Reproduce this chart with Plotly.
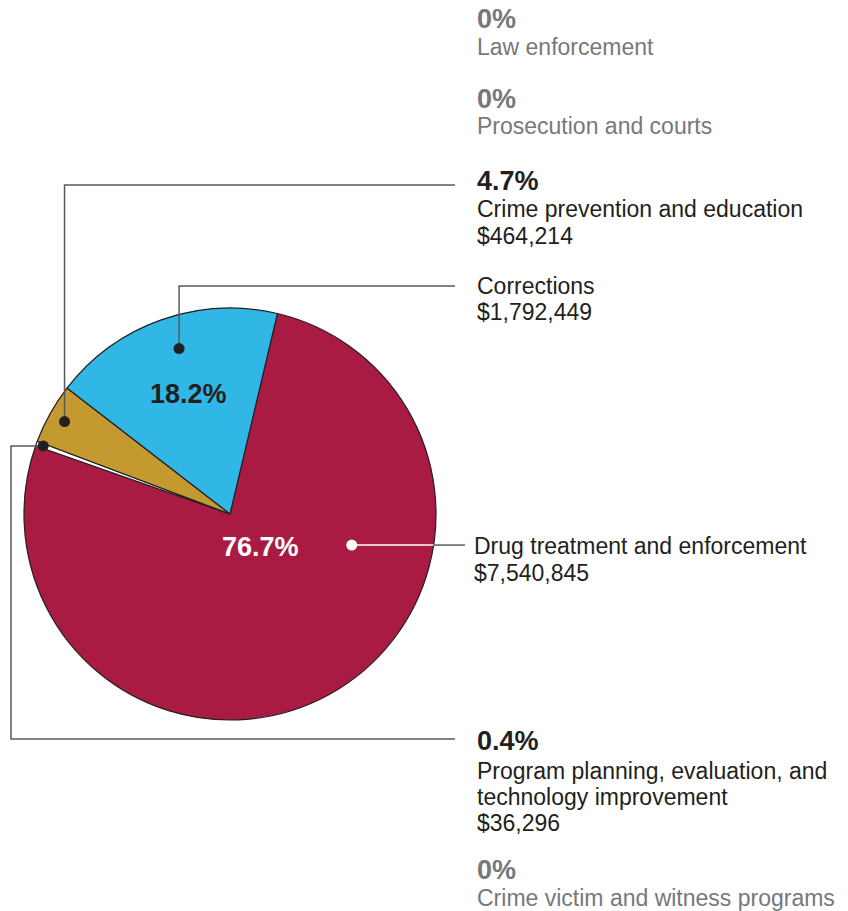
import math
import plotly.graph_objects as go

# Spending by program area (slices drawn clockwise in this order)
categories = [
    "Drug treatment and enforcement",
    "Program planning, evaluation, and technology improvement",
    "Crime prevention and education",
    "Corrections",
]
amounts = [7540845, 36296, 464214, 1792449]
slice_colors = ["#A91B42", "#FFFFFF", "#C49A30", "#31B7E5"]

# Program areas that received nothing
zero_categories = ["Law enforcement", "Prosecution and courts", "Crime victim and witness programs"]
zero_amounts = [0, 0, 0]

# ---- layout geometry (pixels) ----
W, H = 848, 911
CX, CY, R = 230, 514, 206
ROTATION = 13.3
TEXT_X = 475
LINE_END_X = 455
DARK = "#231F20"
GREY_TEXT = "#77787B"
LEADER = "#58595B"
FONT = "Liberation Sans, Arial, Helvetica, sans-serif"
BODY_SIZE = 23
PCT_SIZE = 27

total = sum(amounts)
shares = [a / total * 100 for a in amounts]


def px(x):
    return x / W


def py(y):
    return 1 - y / H


def mid_angle(i):
    start = sum(amounts[:i]) / total * 360
    end = sum(amounts[: i + 1]) / total * 360
    return ROTATION + (start + end) / 2


def polar(angle_deg, rfrac):
    a = math.radians(angle_deg)
    return CX + rfrac * R * math.sin(a), CY - rfrac * R * math.cos(a)


fig = go.Figure(
    go.Pie(
        labels=categories,
        values=amounts,
        sort=False,
        direction="clockwise",
        rotation=ROTATION,
        marker=dict(colors=slice_colors, line=dict(color=DARK, width=1.2)),
        textinfo="none",
        hoverinfo="label+value+percent",
        showlegend=False,
        domain=dict(x=[px(CX - R), px(CX + R)], y=[py(CY + R), py(CY - R)]),
    )
)

shapes = []
annotations = []


def add_line(points, color=LEADER, width=1.5):
    path = "M " + " L ".join(f"{px(x)},{py(y)}" for x, y in points)
    shapes.append(dict(type="path", xref="paper", yref="paper", path=path,
                       line=dict(color=color, width=width)))


def add_dot(x, y, color=DARK, size=11):
    shapes.append(dict(type="circle", xref="paper", yref="paper",
                       xsizemode="pixel", ysizemode="pixel",
                       xanchor=px(x), yanchor=py(y),
                       x0=-size / 2, x1=size / 2, y0=-size / 2, y1=size / 2,
                       fillcolor=color, line=dict(width=0)))


def add_text(text, y, size=BODY_SIZE, color=DARK, bold=False, x=TEXT_X):
    annotations.append(dict(
        text=f"<b>{text}</b>" if bold else text,
        x=px(x), y=py(y), xref="paper", yref="paper",
        xanchor="left", yanchor="middle", showarrow=False,
        font=dict(family=FONT, size=size, color=color)))


def add_slice_label(text, x, y, color):
    annotations.append(dict(
        text=f"<b>{text}</b>", x=px(x), y=py(y), xref="paper", yref="paper",
        xanchor="center", yanchor="middle", showarrow=False,
        font=dict(family=FONT, size=PCT_SIZE, color=color)))


def money(v):
    return f"${v:,.0f}"


# Crime prevention and education (gold)
dx, dy = polar(mid_angle(2), 0.92)
add_line([(dx, dy), (dx, 185), (LINE_END_X, 185)])
add_dot(dx, dy)
add_text(f"{shares[2]:.1f}%", 181, size=PCT_SIZE, bold=True)
add_text(categories[2], 209)
add_text(money(amounts[2]), 236)

# Corrections (blue)
dx, dy = polar(mid_angle(3) + 2.4, 0.84)
add_line([(dx, dy), (dx, 286), (LINE_END_X, 286)])
add_dot(dx, dy)
add_text(categories[3], 286)
add_text(money(amounts[3]), 312)
add_slice_label(f"{shares[3]:.1f}%", 188, 394, DARK)

# Program planning (white sliver)
dx, dy = polar(mid_angle(1), 0.965)
add_line([(dx, dy), (11, dy), (11, 739), (LINE_END_X, 739)])
add_dot(dx, dy)
add_text(f"{shares[1]:.1f}%", 741, size=PCT_SIZE, bold=True)
add_text("Program planning, evaluation, and", 771)
add_text("technology improvement", 797)
add_text(money(amounts[1]), 823)

# Drug treatment and enforcement (red)
dx, dy = polar(mid_angle(0) - 47, 0.61)
edge_x = CX + math.sqrt(R ** 2 - (dy - CY) ** 2)
add_line([(dx, dy), (edge_x, dy)], color="#FFFFFF", width=1.5)
add_line([(edge_x, dy), (LINE_END_X + 10, dy)])
add_dot(dx, dy, color="#FFFFFF")
add_text(categories[0], 546, x=TEXT_X - 3)
add_text(money(amounts[0]), 573, x=TEXT_X - 3)
add_slice_label(f"{shares[0]:.1f}%", 260, 547, "#FFFFFF")

# Areas with no spending
for label, v, (y_pct, y_lab) in zip(zero_categories, zero_amounts,
                                      [(19, 47), (99, 126), (870, 898)]):
    add_text(f"{v / total * 100:.0f}%", y_pct, size=PCT_SIZE, bold=True, color=GREY_TEXT)
    add_text(label, y_lab, color=GREY_TEXT)

fig.update_layout(
    width=W, height=H,
    margin=dict(l=0, r=0, t=0, b=0),
    paper_bgcolor="white", plot_bgcolor="white",
    shapes=shapes, annotations=annotations,
)

fig.write_html("out.html")
